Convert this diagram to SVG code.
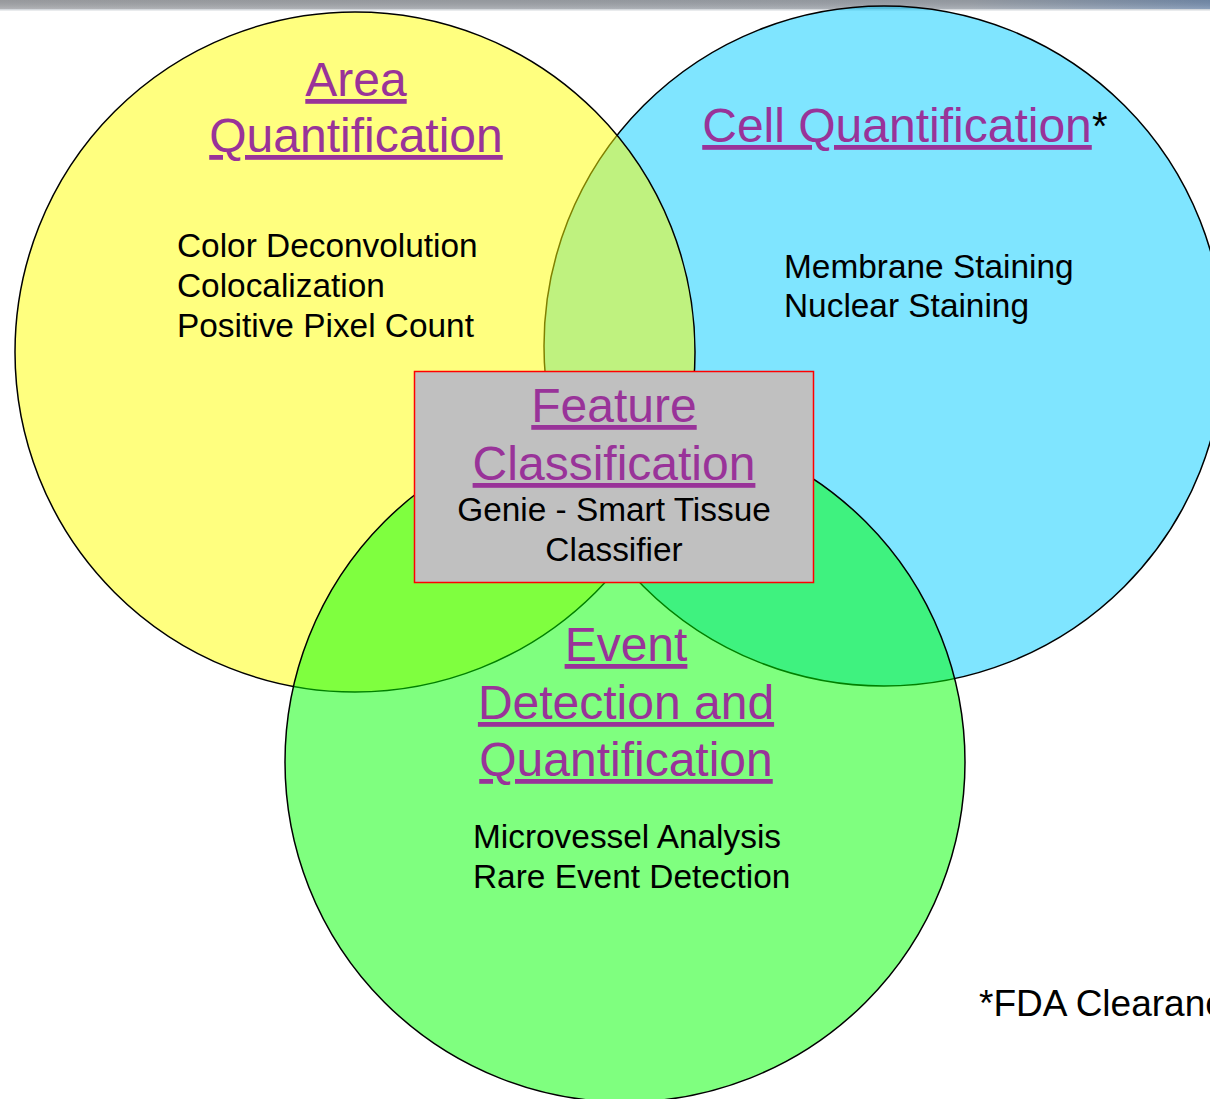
<svg xmlns="http://www.w3.org/2000/svg" width="1210" height="1099" viewBox="0 0 1210 1099">
<defs>
<linearGradient id="bar" x1="0" y1="0" x2="1" y2="0">
<stop offset="0" stop-color="#A4A6AA"/>
<stop offset="0.8" stop-color="#9EA4AC"/>
<stop offset="1" stop-color="#7890B0"/>
</linearGradient>
<linearGradient id="barShade" x1="0" y1="0" x2="0" y2="1">
<stop offset="0" stop-color="#000" stop-opacity="0.08"/>
<stop offset="1" stop-color="#fff" stop-opacity="0.15"/>
</linearGradient>
<style>
.ring{stroke:#000;stroke-width:1.5}
.title{font-family:"Liberation Sans",Arial,sans-serif;font-size:48px;fill:#993399;text-decoration:underline;text-anchor:middle}
.body{font-family:"Liberation Sans",Arial,sans-serif;font-size:33.4px;fill:#000}
.mid{text-anchor:middle}
</style>
</defs>
<rect width="1210" height="1099" fill="#fff"/>
<rect x="0" y="0" width="1210" height="9" fill="url(#bar)"/>
<rect x="0" y="0" width="1210" height="9" fill="url(#barShade)"/>
<rect x="0" y="9" width="1210" height="1.5" fill="#D4D8DC"/>
<g id="connectors"/>
<g id="cell-quantification">
<circle class="ring" cx="884" cy="346" r="340" fill="rgb(0,204,255)" fill-opacity="0.5"/>
<text class="title" x="897" y="142">Cell Quantification</text>
<text x="1092" y="140" font-family="Liberation Sans,Arial,sans-serif" font-size="40" fill="#000">*</text>
<text class="body" x="784" y="278">Membrane Staining</text>
<text class="body" x="784" y="317">Nuclear Staining</text>
</g>
<g id="area-quantification">
<circle class="ring" cx="355" cy="352" r="340" fill="rgb(255,255,0)" fill-opacity="0.5"/>
<text class="title" x="356" y="96">Area</text>
<text class="title" x="356" y="152">Quantification</text>
<text class="body" x="177" y="257">Color Deconvolution</text>
<text class="body" x="177" y="297">Colocalization</text>
<text class="body" x="177" y="337">Positive Pixel Count</text>
</g>
<g id="event-detection">
<circle class="ring" cx="625" cy="762" r="340" fill="rgb(0,255,0)" fill-opacity="0.5"/>
<text class="title" x="626" y="661">Event</text>
<text class="title" x="626" y="719">Detection and</text>
<text class="title" x="626" y="776">Quantification</text>
<text class="body" x="473" y="848">Microvessel Analysis</text>
<text class="body" x="473" y="888">Rare Event Detection</text>
</g>
<g id="feature-classification">
<rect x="414.5" y="371.5" width="399" height="211" fill="#C0C0C0" stroke="#FF0000" stroke-width="1.5"/>
<text class="title" x="614" y="422">Feature</text>
<text class="title" x="614" y="480">Classification</text>
<text class="body mid" x="614" y="521">Genie - Smart Tissue</text>
<text class="body mid" x="614" y="561">Classifier</text>
</g>
<g id="footnote">
<text class="body" x="979" y="1016" style="font-size:37px">*FDA Clearance</text>
</g>
</svg>
